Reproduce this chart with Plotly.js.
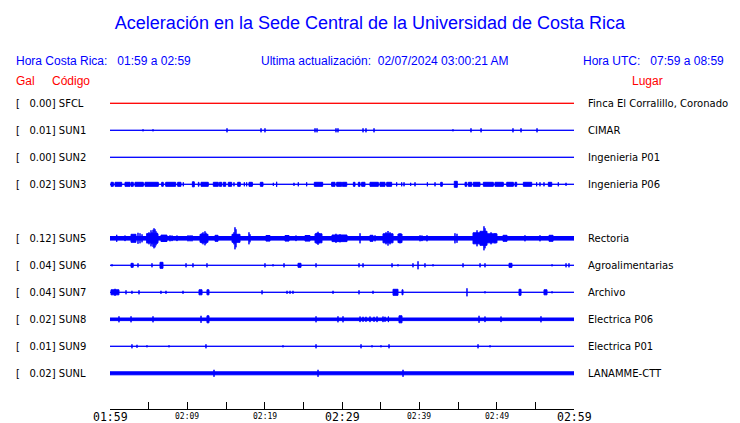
<!DOCTYPE html>
<html><head><meta charset="utf-8">
<script src="https://cdn.plot.ly/plotly-3.0.1.min.js"></script>
<style>html,body{margin:0;padding:0;background:#fff}#chart{width:740px;height:423px}</style>
</head><body><div id="chart"></div>
<script>
// ---- data ----
const titleText = 'Aceleración en la Sede Central de la Universidad de Costa Rica';
const horaCR = '01:59 a 02:59';
const horaUTC = '07:59 a 08:59';
const lastUpdate = '02/07/2024 03:00:21 AM';
const codes  = ['SFCL','SUN1','SUN2','SUN3','SUN4','SUN5','SUN6','SUN7','SUN8','SUN9','SUNL'];
const places = ['Finca El Corralillo, Coronado','CIMAR','Ingenieria P01','Ingenieria P06',null,'Rectoria','Agroalimentarias','Archivo','Electrica P06','Electrica P01','LANAMME-CTT'];
const peakGal = [0.00,0.01,0.00,0.02,null,0.12,0.04,0.04,0.02,0.01,0.02];
const noiseLevel = [0,0,0,0,null,1.8,0,0,1.3,0,1.5];
const tickMinutes = [0,10,20,30,40,50,60];
const tickLabels = ['01:59','02:09','02:19','02:29','02:39','02:49','02:59'];
// events: [minute, amplitude] spikes or [startMinute, endMinute, amplitude] bursts
const sfclEvents = [];
const sun1Events = [[4.27,1],[5.56,1],[15.13,2],[19.53,2],[20.04,2],[26.51,2],[26.77,2],[29.22,2],[29.48,2],[32.72,2],[33.1,2],[34.14,2],[44.35,1],[46.68,2],[47.98,2],[52.11,2],[53.15,2],[55.22,2]];
const sun2Events = [];
const sun3Events = [[0.13,0.43,2],[0.65,1.51,2],[1.94,2.59,2],[2.72,3.01,2],[3.23,4.31,2],[4.53,6.25,2],[6.68,6.89,2],[7.2,8.49,2],[8.75,9.18,2],[9.48,2],[10.65,10.9,2.5],[11.42,11.51,2],[11.77,12.71,2],[13.36,14.0,2],[14.14,14.44,2],[14.65,14.96,2],[15.3,15.73,2],[16.03,2],[16.51,16.85,2],[17.37,2],[17.67,2],[17.97,18.41,2],[19.44,19.78,2],[21.12,1.5],[21.55,2.5],[23.79,1.5],[24.35,2],[25.43,2],[26.42,27.5,2],[28.66,29.1,2],[29.31,29.96,2],[30.04,30.61,2],[31.47,31.68,2],[32.11,32.33,2],[32.54,32.97,2],[33.62,34.7,2],[34.91,35.56,2],[35.78,36.42,2],[37.07,2],[37.72,2],[38.02,2],[38.88,1.5],[39.44,2],[41.04,2],[42.03,2],[42.76,42.97,2],[44.52,44.91,3],[45.91,46.13,2],[46.34,46.77,2],[46.98,47.84,2],[48.28,49.57,2],[49.78,50.86,2],[51.3,52.16,2],[52.37,52.59,2],[53.45,54.53,2],[55.17,2],[55.6,2],[56.12,2],[56.68,57.12,2],[57.97,2],[58.97,1.5]];
const sun4Events = null;
const sun5Events = [[0.87,3.5],[1.94,2.8],[2.72,3.36,4],[3.62,5.5],[3.88,5],[4.14,4],[4.78,6.21,4.5],[4.78,5],[5.04,6],[5.30,8],[5.43,6],[5.56,8.5],[5.69,10],[5.82,9],[5.95,7],[6.08,5.5],[6.59,7.37,3.2],[7.76,3],[8.02,2.8],[8.66,2.8],[10.09,3],[10.35,3],[10.6,3],[11.64,12.67,4],[11.9,5],[12.03,6],[12.28,7],[12.41,5.5],[13.58,13.97,3],[15.78,16.81,4],[16.03,6],[16.16,11],[16.29,9],[17.97,6],[18.1,4],[20.17,20.69,2.8],[22.63,23.15,2.8],[24.05,2.8],[25.22,25.86,2.8],[26.51,27.41,4.5],[26.77,5.5],[26.9,6.5],[27.03,5],[28.71,30.65,3.3],[29.22,4.5],[29.74,4],[32.33,5],[33.62,34.01,3],[34.27,3],[35.3,36.6,4.5],[35.69,6],[35.95,7.3],[36.21,6],[37.24,37.76,4.3],[37.5,5],[40.09,3],[40.34,2.8],[40.99,3],[44.61,5],[44.87,4.5],[46.94,47.84,5.5],[47.46,8],[47.84,48.75,7],[48.36,12],[48.49,10],[48.75,50.04,4.5],[49.27,6],[49.78,5],[50.82,51.34,3],[53.66,3],[55.6,3],[56.77,57.29,3]];
const sun6Events = [[0.26,1],[2.72,3.0,2],[3.62,2],[5.43,2],[6.47,6.85,3],[9.83,2],[10.73,2],[12.54,2],[20.04,2],[21.08,1],[22.5,2],[24.31,24.7,2],[26.64,2],[32.2,2],[32.72,2],[36.47,2],[37.24,1],[39.18,2],[39.83,4],[40.73,2],[41.77,1],[45.65,2],[47.85,2],[48.49,2],[51.6,51.98,2],[57.16,1],[58.97,2],[59.35,2]];
const sun7Events = [[0.13,1.16,2.5],[0.65,3.5],[2.07,2],[2.84,1.5],[3.75,2],[6.59,1.5],[7.24,1.5],[9.44,1.5],[11.51,11.9,2.5],[12.54,12.8,2.5],[19.66,2],[22.89,1.5],[23.28,1.5],[23.66,1.5],[28.84,1.5],[32.2,2],[34.01,1.5],[36.6,37.24,3],[37.76,37.89,2.5],[46.16,4],[48.49,1],[52.89,53.15,3],[56.12,56.51,2.5],[57.16,1]];
const sun8Events = [[1.16,3],[2.72,3],[5.56,3],[11.77,3.5],[12.54,12.8,3.5],[26.64,3],[29.48,3],[30.13,3],[32.33,2.8],[32.72,2.5],[33.1,2.5],[33.62,2.8],[34.14,2.5],[34.53,2.8],[35.3,2.8],[35.56,2.5],[36.0,2.8],[37.37,37.76,3.5],[47.72,3.5],[48.49,2.8],[50.56,2.8],[55.73,3]];
const sun9Events = [[2.84,2],[3.49,1.5],[4.78,1],[7.63,1],[12.41,2],[22.37,1],[26.64,2],[32.46,2],[33.88,1],[35.04,1],[36.08,2],[47.59,2],[49.14,1]];
const sunlEvents = [[13.45,3.5],[26.9,3.5],[37.89,3.5]];
const stationEvents = [sfclEvents,sun1Events,sun2Events,sun3Events,sun4Events,sun5Events,sun6Events,sun7Events,sun8Events,sun9Events,sunlEvents];
const windowMinutes = 60;

// ---- drawing ----
const W = 740, H = 423;
const M = {l:110, r:166, t:90, b:14};
const plotW = W - M.l - M.r, plotH = H - M.t - M.b;
const ROW_PX = 27, FIRST_ROW_PX = 13.3; // row spacing & first row offset below plot top
const AMP_PER_ROW = 27; // amplitude units per row spacing
const yTop = -FIRST_ROW_PX / ROW_PX;
const yBottom = (plotH - FIRST_ROW_PX) / ROW_PX;

const traces = [];
codes.forEach((code, i) => {
  const ev = stationEvents[i];
  if (ev === null) return;
  const xs = [], ys = [];
  const box = (t0, t1, a) => {
    const d = a / AMP_PER_ROW;
    xs.push(t0, t1, t1, t0, t0, null);
    ys.push(i - d, i - d, i + d, i + d, i - d, null);
  };
  box(0, windowMinutes, noiseLevel[i]);
  ev.forEach(e => { if (e.length === 2) box(e[0], e[0], e[1]); else box(e[0], e[1], e[2]); });
  const col = code === 'SFCL' ? '#ff0000' : '#0000ff';
  traces.push({x: xs, y: ys, type: 'scatter', mode: 'lines', fill: 'toself',
    fillcolor: col, line: {color: col, width: 1}, hoverinfo: 'skip', showlegend: false});
});

function px2paper(xpx, ypx) { return {x: (xpx - M.l) / plotW, y: (M.t + plotH - ypx) / plotH}; }
const annotations = [];
function ann(text, xpx, ypx, xanchor, font) {
  const p = px2paper(xpx, ypx);
  annotations.push({text, x: p.x, y: p.y, xref: 'paper', yref: 'paper', xanchor, yanchor: 'middle',
    showarrow: false, font, borderpad: 0});
}
const blueF = {family: 'Liberation Sans, Arial, sans-serif', size: 12, color: '#0000ff'};
const redF = {family: 'Liberation Sans, Arial, sans-serif', size: 12, color: '#ff0000'};
const lblF = {family: 'DejaVu Sans, sans-serif', size: 10, color: '#000000'};
const nb = n => '&nbsp;'.repeat(n);
ann('Hora Costa Rica:' + nb(3) + horaCR, 15, 61, 'left', blueF);
ann('Ultima actualización:' + nb(2) + lastUpdate, 260, 61, 'left', blueF);
ann('Hora UTC:' + nb(3) + horaUTC, 725, 61, 'right', blueF);
ann('Gal', 15, 81, 'left', redF);
ann('Código', 51, 81, 'left', redF);
ann('Lugar', 631, 81, 'left', redF);
codes.forEach((code, i) => {
  if (peakGal[i] === null) return;
  const ypx = M.t + FIRST_ROW_PX + i * ROW_PX;
  ann('[' + nb(3) + peakGal[i].toFixed(2) + '] ' + code, 15, ypx, 'left', lblF);
  ann(places[i], 587, ypx, 'left', lblF);
});
tickMinutes.forEach((m, k) => {
  const big = m % 30 === 0;
  annotations.push({text: tickLabels[k], x: m, xref: 'x', y: 0, yref: 'paper', xanchor: 'center', yanchor: 'top',
    yshift: big ? 0 : -2, showarrow: false, borderpad: 0,
    font: {family: 'DejaVu Sans Mono, monospace', size: big ? 11.5 : 8, color: '#000', weight: 'normal'}});
});

const tickVals = [];
for (let m = 0; m <= windowMinutes; m += 5) tickVals.push(m);

const layout = {
  width: W, height: H, margin: M, paper_bgcolor: '#fff', plot_bgcolor: '#fff',
  title: {text: titleText, x: 0.5, xref: 'container', xshift: 5, y: 1 - 22.5 / H, yref: 'container', yanchor: 'middle',
    font: {family: 'Liberation Sans, Arial, sans-serif', size: 18, color: '#0000ff'}},
  xaxis: {range: [0, windowMinutes], tickvals: tickVals, showticklabels: false, ticks: 'inside', ticklen: 7,
    tickcolor: '#000', tickwidth: 1, showline: true, linecolor: '#000', linewidth: 1, showgrid: false, zeroline: false, fixedrange: true},
  yaxis: {range: [yBottom, yTop], visible: false, fixedrange: true},
  annotations, showlegend: false
};
Plotly.newPlot('chart', traces, layout, {staticPlot: true});
</script></body></html>
